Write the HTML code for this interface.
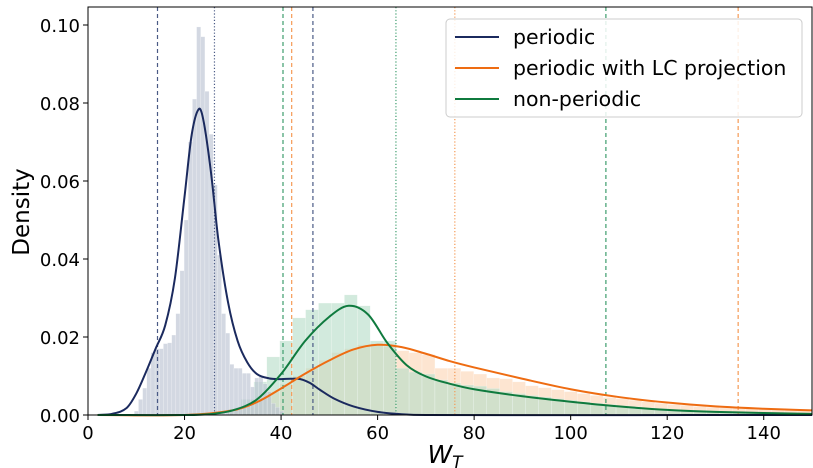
<!DOCTYPE html>
<html><head><meta charset="utf-8">
<style>
body{margin:0;background:#fff;}
svg{display:block;font-family:"DejaVu Sans","Liberation Sans",sans-serif;}
</style></head>
<body>
<svg id="chart" width="813" height="468" viewBox="0 0 813 468" xmlns="http://www.w3.org/2000/svg">
<g id="hist"></g>
<g id="vlines"></g>
<g id="curves"></g>
<g id="axes"></g>
<g id="legend">
<rect x="446" y="19" width="356" height="98" rx="4" fill="#fff" fill-opacity="0.85" stroke="#ccc"/>
<line x1="455" y1="37" x2="499" y2="37" stroke="#1b2a5e" stroke-width="2"/>
<text x="513" y="44" font-size="20.5">periodic</text>
<line x1="455" y1="68" x2="499" y2="68" stroke="#ee6c12" stroke-width="2"/>
<text x="513" y="75" font-size="20.5">periodic with LC projection</text>
<line x1="455" y1="99" x2="499" y2="99" stroke="#0f7a3e" stroke-width="2"/>
<text x="513" y="106" font-size="20.5">non-periodic</text>
</g>
<text x="29" y="212" font-size="23" text-anchor="middle" transform="rotate(-90 29 212)">Density</text>
<text x="445" y="463" font-size="25" font-style="italic" text-anchor="middle">W<tspan font-size="17" dy="5">T</tspan></text>
</svg>
<script>
const xTicks=[0,20,40,60,80,100,120,140];
const yTicks=[0,0.02,0.04,0.06,0.08,0.10];
const yTickLabels=["0.00","0.02","0.04","0.06","0.08","0.10"];
const grayStart=9.6, grayWidth=0.86;
const grayHist=[0.001,0.004,0.0069,0.012,0.016,0.017,0.017,0.0183,0.0185,0.0205,0.026,0.037,0.050,0.070,0.081,0.0995,0.097,0.083,0.072,0.059,0.041,0.026,0.021,0.013,0.012,0.012,0.0107,0.0107,0.0072,0.0095,0.010,0.008,0.006,0.003,0.002,0.001];
const binStart=29.0, binWidth=2.68;
const greenHist=[0.0015,0.004,0.0085,0.0149,0.019,0.0249,0.027,0.0287,0.0287,0.0308,0.028,0.019,0.019,0.012,0.011,0.0105,0.009,0.0082,0.0077,0.0074,0.0068,0.006,0.0055,0.005,0.0046,0.0042,0.0038,0.0034,0.003,0.0027,0.0024,0.0021,0.0018,0.0016,0.0014,0.0012,0.001,0.0009,0.0008,0.0007,0.0006,0.0005,0.0004,0.0004,0.0003];
const orangeHist=[0.001,0.002,0.004,0.006,0.008,0.010,0.012,0.014,0.016,0.017,0.018,0.018,0.0175,0.0165,0.016,0.0155,0.012,0.012,0.0112,0.0105,0.0095,0.0093,0.0085,0.0075,0.007,0.0065,0.006,0.0055,0.005,0.0045,0.0042,0.0038,0.0034,0.003,0.0027,0.0025,0.0022,0.002,0.0019,0.0018,0.0016,0.0015,0.0014,0.0013,0.0012];
const periodicX=[2,5,8,10,12,14,16,18,20,21.5,23,24,25.5,27,29,31,33,35,37.5,40,42,44,46,48,51,55,60,65,70,150];
const periodicY=[0,0.0003,0.0018,0.0055,0.011,0.017,0.023,0.035,0.056,0.072,0.0785,0.075,0.062,0.045,0.029,0.019,0.0135,0.0105,0.0094,0.0092,0.0093,0.0092,0.0082,0.0065,0.0042,0.0022,0.0008,0.0002,0,0];
const lcX=[2,20,30,35,40,45,50,55,60,65,70,75,80,90,100,110,120,130,140,150];
const lcY=[0,0,0.0012,0.0033,0.0068,0.0106,0.014,0.0168,0.018,0.0174,0.0157,0.0138,0.0122,0.0093,0.0066,0.0046,0.0032,0.0022,0.0016,0.0012];
const npX=[2,20,25,30,35,40,45,50,54,58,62,66,70,75,80,90,100,110,120,130,140,150];
const npY=[0,0,0.0002,0.0012,0.004,0.0105,0.019,0.0252,0.028,0.0258,0.0185,0.0128,0.0099,0.008,0.0066,0.0048,0.0034,0.0022,0.0013,0.0008,0.0005,0.0003];
const vlineX=[14.4,26.2,46.6,40.4,42.2,63.8,107.3,76.0,134.7];
const vlineKind=["periodic-dashed","periodic-dotted","periodic-dashed","np-dashed","lc-dashed","np-dotted","np-dashed","lc-dotted","lc-dashed"];

const X0=88,X1=812,Y0=415,YT=7;
const xs=v=>X0+v*(X1-X0)/150;
const ys=v=>Y0-v*3900;
const NS="http://www.w3.org/2000/svg";
function mk(tag,attrs,parent){const e=document.createElementNS(NS,tag);for(const k in attrs)e.setAttribute(k,attrs[k]);parent.appendChild(e);return e;}
const hist=document.getElementById('hist');
function drawHist(vals,start,w,fill,op,name){
  vals.forEach((v,i)=>{
    const r=mk('rect',{x:xs(start+i*w),y:ys(v),width:xs(start+(i+1)*w)-xs(start+i*w),height:Y0-ys(v),fill:fill,'fill-opacity':op,stroke:'#fff','stroke-width':0.4,'stroke-opacity':0.5},hist);
    
    
  });
}
drawHist(orangeHist,binStart,binWidth,'#fbd3b3',0.6,'lc-hist-bar');
drawHist(greenHist,binStart,binWidth,'#b4dcc6',0.6,'nonperiodic-hist-bar');
drawHist(grayHist,grayStart,grayWidth,'#bcc3d3',0.65,'periodic-hist-bar');

const vl=document.getElementById('vlines');
const vcol={"periodic":"#4a5a85","np":"#3d9d6d","lc":"#f59a55"};
vlineX.forEach((v,i)=>{
  const [g,st]=vlineKind[i].split('-');
  const l=mk('line',{x1:xs(v),x2:xs(v),y1:YT,y2:Y0,stroke:vcol[g],'stroke-width':1.2,'stroke-dasharray':st==='dashed'?'4,3':'1.2,2'},vl);
  
  
});

const cv=document.getElementById('curves');
function smoothPath(X,Y){
  const n=X.length,m=[];
  for(let i=0;i<n;i++){
    const a=Math.max(0,i-1),b=Math.min(n-1,i+1);
    m.push((Y[b]-Y[a])/(X[b]-X[a]));
  }
  let d='M'+xs(X[0])+','+ys(Y[0]);
  for(let i=0;i<n-1;i++){
    const h=X[i+1]-X[i];
    d+=` C${xs(X[i]+h/3)},${ys(Y[i]+m[i]*h/3)} ${xs(X[i+1]-h/3)},${ys(Y[i+1]-m[i+1]*h/3)} ${xs(X[i+1])},${ys(Y[i+1])}`;
  }
  return d;
}
[[periodicX,periodicY,'#1b2a5e','periodic-curve'],[lcX,lcY,'#ee6c12','lc-curve'],[npX,npY,'#0f7a3e','nonperiodic-curve']].forEach(s=>{
  const p=mk('path',{d:smoothPath(s[0],s[1]),fill:'none',stroke:s[2],'stroke-width':2},cv);
  
  
});

const ax=document.getElementById('axes');
const fr=mk('rect',{x:X0,y:YT,width:X1-X0,height:Y0-YT,fill:'none',stroke:'#000','stroke-width':1},ax);


xTicks.forEach(t=>{
  const l=mk('line',{x1:xs(t),x2:xs(t),y1:Y0,y2:Y0+5,stroke:'#000'},ax);
  
  
  const tx=mk('text',{x:xs(t),y:Y0+24,'font-size':18,'text-anchor':'middle'},ax);
  tx.textContent=t;
  
  
});
yTicks.forEach((t,i)=>{
  const l=mk('line',{x1:X0-5,x2:X0,y1:ys(t),y2:ys(t),stroke:'#000'},ax);
  
  
  const tx=mk('text',{x:X0-8,y:ys(t)+7,'font-size':18,'text-anchor':'end'},ax);
  tx.textContent=yTickLabels[i];
  
  
});
</script>
</body></html>
